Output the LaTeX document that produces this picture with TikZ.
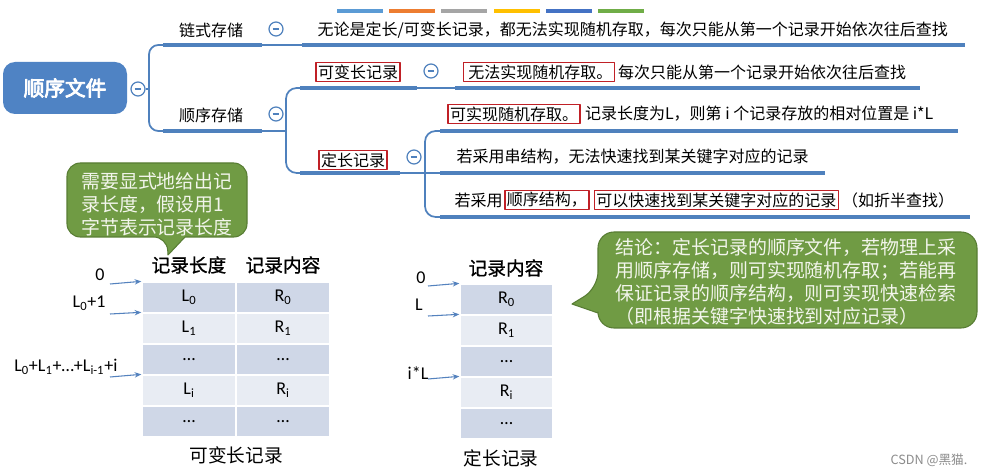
\documentclass[tikz,border=0pt]{standalone}
\usepackage{fontspec}
\setmainfont{Noto Sans CJK SC}
\newfontfamily\cjkbold{Noto Sans CJK SC}[FakeBold=4]
\newfontfamily\cjkmed{Noto Sans CJK SC}[FakeBold=1]
\newfontfamily\lat{Carlito}
\usetikzlibrary{positioning,arrows.meta}

\definecolor{mmblue}{RGB}{79,129,189}
\definecolor{rootblue}{RGB}{79,131,196}
\definecolor{boxred}{RGB}{192,32,38}
\definecolor{bullegreen}{RGB}{112,155,68}
\definecolor{bulleedge}{RGB}{88,125,52}
\definecolor{bulletext}{RGB}{242,245,235}
\definecolor{rowdark}{RGB}{207,215,231}
\definecolor{rowlight}{RGB}{232,236,243}
\definecolor{arrowblue}{RGB}{84,130,190}
\definecolor{barA}{RGB}{91,155,213}
\definecolor{barB}{RGB}{237,125,49}
\definecolor{barC}{RGB}{165,165,165}
\definecolor{barD}{RGB}{255,192,0}
\definecolor{barE}{RGB}{68,114,196}
\definecolor{barF}{RGB}{112,173,71}

\begin{document}
\begin{tikzpicture}[x=0.75pt, y=-0.75pt, line join=round,
    mm/.style={font=\fontsize{12}{14}\selectfont, inner sep=1pt},
    redbox/.style={mm, draw=boxred, line width=1.1pt, inner sep=1.5pt},
    fold/.style={circle, draw=mmblue, line width=0.9pt, fill=white, minimum size=10.5pt, inner sep=0pt,
      path picture={\draw[mmblue, line width=1pt] ([xshift=-2.6pt]path picture bounding box.center) -- ([xshift=2.6pt]path picture bounding box.center);}},
    thk/.style={draw=mmblue, line width=3pt},
    brk/.style={draw=mmblue, line width=1.3pt},
    rootbox/.style={fill=rootblue, rounded corners=9pt, minimum width=93pt, minimum height=39pt, text=white, font=\cjkbold\fontsize{15.5}{18}\selectfont},
    bulle/.style={fill=bullegreen, draw=bulleedge, line width=0.8pt},
    bulletxt/.style={text=bulletext, align=left, inner sep=0pt, font=\fontsize{14.2}{17.2}\selectfont},
    hdr/.style={font=\cjkmed\fontsize{14}{16}\selectfont},
    caption/.style={font=\fontsize{14}{16}\selectfont},
    lbl/.style={font=\lat\fontsize{13.5}{15}\selectfont, inner sep=1pt},
    cell/.style={draw=white, line width=1pt, minimum width=70.5pt, minimum height=23.25pt, inner sep=0pt, font=\lat\fontsize{13.5}{15}\selectfont},
    ptr/.style={draw=arrowblue, line width=0.8pt, -{Stealth[length=5pt, width=4pt]}}]
  % Fond et cadre
  \fill[white] (0,0) rectangle (983,474);
  \useasboundingbox (0,0) rectangle (983,474);

  % Barre de couleurs en haut
  \foreach \c [count=\k] in {barA,barB,barC,barD,barE,barF}
    \fill[\c] ({337+(\k-1)*52.2},9) rectangle ++(46,4);

  % Noeud racine et boutons
  \node[rootbox] (root) at (65,88) {顺序文件};
  \node[fold] (f0) at (138,89) {};
  \node[fold] (f1) at (276,29) {};
  \node[fold] (f2) at (276,114) {};
  \node[fold] (f3) at (431,71) {};
  \node[fold] (f4) at (414,157) {};

  % Points des branches
  \coordinate (b0) at (149,89);
  \coordinate (b1) at (286,131);
  \coordinate (b2) at (425,173);
  \coordinate (L1a) at (163,45);
  \coordinate (L1b) at (262,45);
  \coordinate (L1c) at (302,45);
  \coordinate (L1d) at (965,45);
  \coordinate (L2a) at (163,131);
  \coordinate (L2b) at (262,131);
  \coordinate (L3a) at (300,88);
  \coordinate (L3b) at (417,88);
  \coordinate (L3c) at (455,88);
  \coordinate (L3d) at (920,88);
  \coordinate (L4a) at (300,173);
  \coordinate (L4b) at (400,173);
  \coordinate (L5a) at (440,131);
  \coordinate (L5b) at (958,131);
  \coordinate (L6a) at (440,173);
  \coordinate (L6b) at (825,173);
  \coordinate (L7a) at (440,217);
  \coordinate (L7b) at (970,217);

  % Accolades
  \draw[brk] (f0.east) -- (b0);
  \draw[brk, rounded corners=7pt] (L1a) -| (b0) |- (L2a);
  \draw[brk] (L2b) -- (b1);
  \draw[brk, rounded corners=8pt] (L3a) -| (b1) |- (L4a);
  \draw[brk] (L4b) -- (L6a);
  \draw[brk, rounded corners=8pt] (L5a) -| (b2) |- (L7a);
  \draw[brk] (L1b) -- (L1c);
  \draw[brk] (L3b) -- (L3c);

  % Traits épais
  \draw[thk] (L1a) -- (L1b);
  \draw[thk] (L1c) -- (L1d);
  \draw[thk] (L2a) -- (L2b);
  \draw[thk] (L3a) -- (L3b);
  \draw[thk] (L3c) -- (L3d);
  \draw[thk] (L4a) -- (L4b);
  \draw[thk] (L5a) -- (L5b);
  \draw[thk] (L6a) -- (L6b);
  \draw[thk] (L7a) -- (L7b);

  % Textes de la carte
  \node[mm] (n1) at (211,30) {链式存储};
  \node[mm, anchor=west] (t1) at (316,30) {无论是定长/可变长记录，都无法实现随机存取，每次只能从第一个记录开始依次往后查找};
  \node[mm] (n2) at (211,115) {顺序存储};
  \node[redbox] (n3) at (358,72) {可变长记录};
  \node[redbox] (t3a) at (539,72) {\,无法实现随机存取。};
  \node[mm, right=1pt of t3a] (t3b) {每次只能从第一个记录开始依次往后查找};
  \node[redbox] (n4) at (353,160) {定长记录};
  \node[redbox] (t5a) at (514,114) {可实现随机存取。};
  \node[mm, right=2pt of t5a] (t5b) {记录长度为L，则第 i 个记录存放的相对位置是 i*L};
  \node[mm, anchor=west] (t6) at (455,157) {若采用串结构，无法快速找到某关键字对应的记录};
  \node[mm, anchor=west] (t7a) at (453,200) {若采用};
  \node[redbox, right=0pt of t7a] (t7b) {顺序结构，};
  \node[redbox, right=3pt of t7b] (t7c) {可以快速找到某关键字对应的记录};
  \node[mm, right=1pt of t7c] (t7d) {（如折半查找）};

  % Bulles vertes
  \draw[bulle] (167,237) -- (168,255) -- (185,237) [rounded corners=10pt] -- (247,237) -- (247,163) -- (67,163) -- (67,237) -- cycle;
  \node[bulletxt] (c1) at (157,204) {需要显式地给出记\\录长度，假设用1\\字节表示记录长度};
  \draw[bulle] (598,288) -- (572,304) -- (598,313) [rounded corners=12pt] -- (598,328) -- (977,328) -- (977,232) -- (598,232) -- cycle;
  \node[bulletxt] (c2) at (786,282) {结论：定长记录的顺序文件，若物理上采\\用顺序存储，则可实现随机存取；若能再\\保证记录的顺序结构，则可实现快速检索\\（即根据关键字快速找到对应记录）};

  % Tableaux
  \node[hdr] (ha) at (189,265) {记录长度};
  \node[hdr] (hb) at (283,265) {记录内容};
  \node[hdr] (hc) at (506,268) {记录内容};
  \foreach \a/\b [count=\i] in {L\textsubscript{0}/R\textsubscript{0}, L\textsubscript{1}/R\textsubscript{1}, …/…, L\textsubscript{i}/R\textsubscript{i}, …/…}{
    \ifodd\i \def\rowc{rowdark}\else\def\rowc{rowlight}\fi
    \node[cell, fill=\rowc] (va\i) at (189,{297.5+31*(\i-1)}) {\a};
    \node[cell, fill=\rowc] (vb\i) at (283,{297.5+31*(\i-1)}) {\b};
    \node[cell, fill=\rowc, minimum width=69.75pt] (fc\i) at (506.5,{299.5+31*(\i-1)}) {\b};
  }
  \node[caption] (capA) at (236,455) {可变长记录};
  \node[caption] (capB) at (501,458) {定长记录};

  % Adresses et flèches
  \node[lbl, anchor=east] (la0) at (106,275) {0};
  \node[lbl, anchor=east] (la1) at (107,303) {L\textsubscript{0}+1};
  \node[lbl, anchor=east] (la2) at (119,367) {L\textsubscript{0}+L\textsubscript{1}+…+L\textsubscript{i-1}+i};
  \node[lbl] (lb0) at (421,278) {0};
  \node[lbl] (lb1) at (419,305) {L};
  \node[lbl] (lb2) at (418,373) {i*L};
  \coordinate (pa0) at (110,284);
  \coordinate (pa1) at (110,314);
  \coordinate (pa2) at (110,377);
  \coordinate (pb0) at (428,286);
  \coordinate (pb1) at (428,316);
  \coordinate (pb2) at (428,379);
  \draw[ptr] (pa0) -- (va1.north west);
  \draw[ptr] (pa1) -- (va2.north west);
  \draw[ptr] (pa2) -- (va4.north west);
  \draw[ptr] (pb0) -- (fc1.north west);
  \draw[ptr] (pb1) -- (fc2.north west);
  \draw[ptr] (pb2) -- (fc4.north west);

  % Filigrane
  \node[font=\fontsize{9.5}{11}\selectfont, text=black!45] (wm) at (929,460) {CSDN @黑猫.};
\end{tikzpicture}
\end{document}
